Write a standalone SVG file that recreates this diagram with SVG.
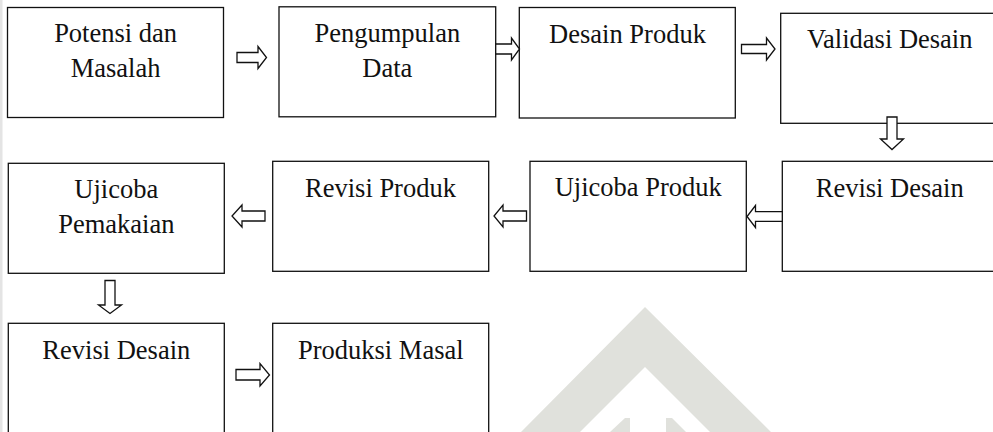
<svg xmlns="http://www.w3.org/2000/svg" width="993" height="432" viewBox="0 0 993 432">
  <style>
    .box { fill: #ffffff; stroke: #111111; stroke-width: 1.3; }
    .lbl { font-family: "Liberation Serif", "Times New Roman", serif; font-size: 26.5px; fill: #111111; text-anchor: middle; }
    .arr { fill: #ffffff; stroke: #111111; stroke-width: 1.3; stroke-linejoin: miter; }
    .wm { fill: #e0e1dc; }
  </style>
  <rect x="0" y="0" width="993" height="432" fill="#ffffff"/>
  <rect x="0" y="0" width="2.5" height="432" fill="#e4e4e4"/>
  <g id="watermark">
    <polygon class="wm" points="645,307 521,432 580,432 645,367 710,432 771,432"/>
    <polygon class="wm" points="610,432 625,418 630,418 630,432"/>
    <polygon class="wm" points="666,418 672,418 686,432 666,432"/>
  </g>

  <g id="n1">
    <rect class="box" x="7.5" y="7.5" width="216" height="110"/>
    <text class="lbl" x="115.6" y="41.7">Potensi dan</text>
    <text class="lbl" x="115.6" y="77.3">Masalah</text>
  </g>
  <g id="n2">
    <rect class="box" x="279" y="6.8" width="216.7" height="110"/>
    <text class="lbl" x="387.3" y="41.7">Pengumpulan</text>
    <text class="lbl" x="387.3" y="76.7">Data</text>
  </g>
  <g id="n3">
    <rect class="box" x="519.3" y="7.5" width="216" height="110.5"/>
    <text class="lbl" x="627.5" y="43.3">Desain Produk</text>
  </g>
  <g id="n4">
    <rect class="box" x="780.7" y="13.3" width="218" height="110"/>
    <text class="lbl" x="889.7" y="48.3">Validasi Desain</text>
  </g>
  <g id="n5">
    <rect class="box" x="8.3" y="163.3" width="216" height="110"/>
    <text class="lbl" x="116.3" y="198.3">Ujicoba</text>
    <text class="lbl" x="116.3" y="232.7">Pemakaian</text>
  </g>
  <g id="n6">
    <rect class="box" x="272.7" y="161.3" width="216" height="110"/>
    <text class="lbl" x="380.5" y="196.7">Revisi Produk</text>
  </g>
  <g id="n7">
    <rect class="box" x="530" y="161.3" width="216.3" height="110"/>
    <text class="lbl" x="638.2" y="196">Ujicoba Produk</text>
  </g>
  <g id="n8">
    <rect class="box" x="782.3" y="161.3" width="218" height="110"/>
    <text class="lbl" x="889.7" y="197.3">Revisi Desain</text>
  </g>
  <g id="n9">
    <rect class="box" x="8.3" y="323.3" width="216" height="120"/>
    <text class="lbl" x="116.3" y="359">Revisi Desain</text>
  </g>
  <g id="n10">
    <rect class="box" x="272.7" y="323.3" width="216" height="120"/>
    <text class="lbl" x="380.8" y="359">Produksi Masal</text>
  </g>

  <g id="connectors">
    <polygon class="arr" points="237,52.5 258,52.5 258,46.5 266.5,57.5 258,68.5 258,62.5 237,62.5"/>
    <polygon class="arr" points="495.7,44 511.5,44 511.5,38 519.5,49 511.5,60 511.5,54 495.7,54"/>
    <polygon class="arr" points="741.5,44.5 766.5,44.5 766.5,38 775,49 766.5,60 766.5,53.5 741.5,53.5"/>
    <polygon class="arr" points="887,117 897,117 897,139 903.5,139 892,149.5 880.5,139 887,139"/>
    <polygon class="arr" points="782.3,211.7 755.5,211.7 755.5,205.5 747,216.5 755.5,227.5 755.5,221.3 782.3,221.3"/>
    <polygon class="arr" points="526.5,211 503,211 503,205 494,216 503,227 503,221 526.5,221"/>
    <polygon class="arr" points="265,211 242,211 242,205 232,216 242,227 242,221 265,221"/>
    <polygon class="arr" points="105,280.5 115,280.5 115,305 121.5,305 110,313.5 98.5,305 105,305"/>
    <polygon class="arr" points="236,369.5 260,369.5 260,363.5 269.5,375 260,386 260,380 236,380"/>
  </g>
</svg>
